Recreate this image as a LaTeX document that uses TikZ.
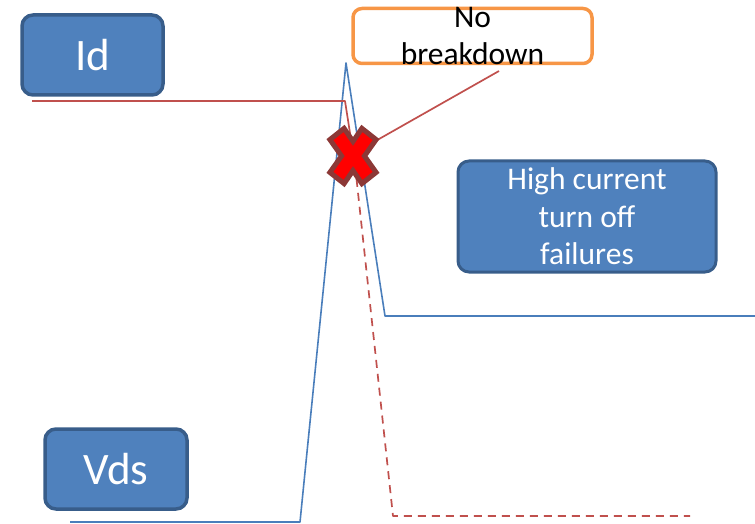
\documentclass[tikz,border=0pt]{standalone}
\usepackage{fontspec}
\setmainfont{Carlito}
\definecolor{boxfill}{HTML}{4F81BD}
\definecolor{boxedge}{HTML}{385D8A}
\definecolor{curveblue}{HTML}{4A7EBB}
\definecolor{curvered}{HTML}{C0504D}
\definecolor{orangeedge}{HTML}{F79646}
\definecolor{xfill}{HTML}{FF0000}
\definecolor{xedge}{HTML}{8C3836}
\tikzset{
  bluebox/.style={draw=boxedge, fill=boxfill, line width=3.5pt, rounded corners=11pt, inner sep=0pt},
  bigtext/.style={text=white, font=\fontsize{45}{54}\selectfont},
  midtext/.style={align=center, font=\fontsize{31.5}{37.5}\selectfont},
  vcurve/.style={draw=curveblue, line width=1.6pt, line join=round},
  icurve/.style={draw=curvered, line width=1.7pt, line join=round},
  idash/.style={icurve, dash pattern=on 8pt off 6pt},
}
\begin{document}
\begin{tikzpicture}[x=1pt,y=-1pt]
\useasboundingbox (0,0) rectangle (755,524);
% curves
\coordinate (v0) at (70,522);
\coordinate (v1) at (300,522);
\coordinate (v2) at (346,63);
\coordinate (v3) at (385,316);
\coordinate (v4) at (756,316);
\draw[vcurve] (v0) -- (v1) -- (v2) -- (v3) -- (v4);
\coordinate (i0) at (32,101);
\coordinate (i1) at (345,101);
\coordinate (i2) at (355,165);
\coordinate (i3) at (393,516);
\coordinate (i4) at (690,516);
\draw[icurve] (i0) -- (i1) -- (i2);
\draw[idash] (i2) -- (i3) -- (i4);
% boxes
\node[bluebox, minimum width=141pt, minimum height=80pt, bigtext] (id) at (92.5,55) {Id};
\node[bluebox, minimum width=142pt, minimum height=80pt, bigtext] (vds) at (116,469) {Vds};
\node[bluebox, line width=3pt, minimum width=258pt, minimum height=111pt,
      label={[midtext, text=white]center:High current\\turn off\\failures}] (hc) at (587,216.5) {};
\node[draw=orangeedge, fill=white, line width=3.5pt, rounded corners=9pt, inner sep=0pt,
      minimum width=239pt, minimum height=55pt,
      label={[midtext, text=black]center:No\\breakdown}] (nb) at (472.5,36) {};
% callout
\coordinate (ctip) at (372,143);
\coordinate (cend) at (499,71);
\draw[curvered, line width=1.7pt] (ctip) -- (cend);
% X mark
\coordinate (xm) at (353,156);
\begin{scope}[shift={(xm)}]
\fill[xfill, draw=xedge, line width=5pt, line join=miter]
  (-23.1,-16.4) -- (-8.9,-27.6) -- (0,-14.6) -- (8.9,-27.6) -- (23.1,-16.4) -- (11.45,0)
  -- (23.1,16.4) -- (8.9,27.6) -- (0,14.6) -- (-8.9,27.6) -- (-23.1,16.4) -- (-11.45,0) -- cycle;
\end{scope}
\end{tikzpicture}
\end{document}
